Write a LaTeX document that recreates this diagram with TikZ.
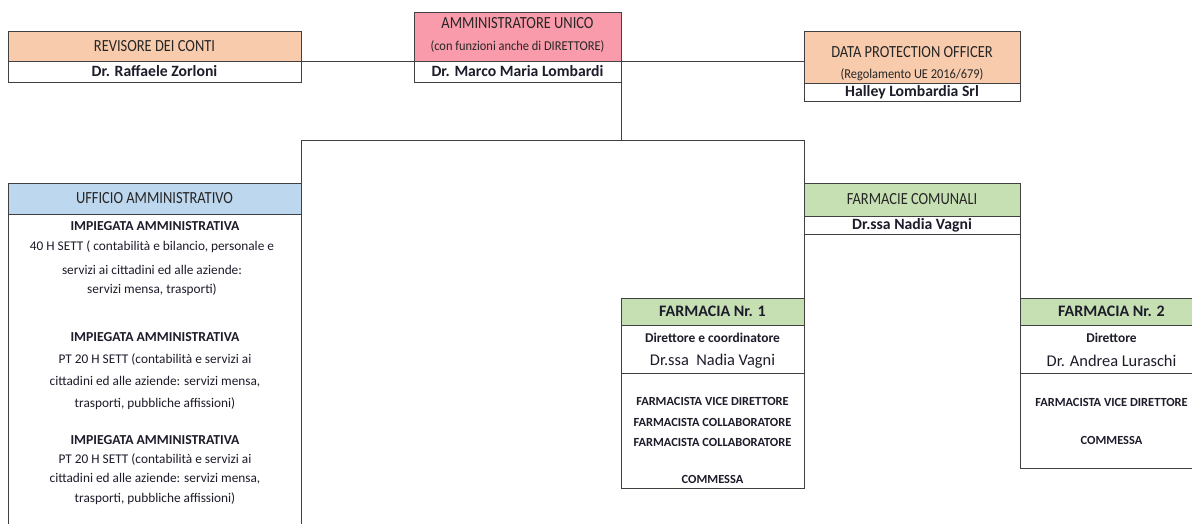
\documentclass[tikz,border=0pt]{standalone}
\usepackage{fontspec}
\setmainfont{Carlito}
\newfontfamily\cond[FakeStretch=0.85]{Carlito}
\newfontfamily\condb[FakeStretch=0.92]{Carlito}
\definecolor{peach}{HTML}{F8CBAD}
\definecolor{pinkh}{HTML}{F99BAA}
\definecolor{blueh}{HTML}{BDD7EE}
\definecolor{greenh}{HTML}{C6E0B4}
\definecolor{lineg}{HTML}{404040}
\definecolor{hdrtxt}{HTML}{262626}
\definecolor{bodytxt}{HTML}{1C1C2A}
\begin{document}
\begin{tikzpicture}[x=1pt,y=-1pt,
 box/.style={draw=lineg,line width=1pt,inner sep=0pt,outer sep=0pt,anchor=north west},
 hdr/.style={font=\cond\fontsize{17}{17}\selectfont,text=hdrtxt},
 subt/.style={font=\condb\fontsize{13.5}{13.5}\selectfont,text=hdrtxt},
 nm/.style={font=\bfseries\fontsize{15.7}{15.7}\selectfont,text=bodytxt},
 bodyt/.style={font=\fontsize{13.3}{13.3}\selectfont,text=bodytxt},
 bodyb/.style={font=\bfseries\fontsize{13.7}{13.7}\selectfont,text=bodytxt},
 fhead/.style={font=\bfseries\fontsize{16}{16}\selectfont,text=bodytxt},
 role/.style={font=\bfseries\fontsize{13.4}{13.4}\selectfont,text=bodytxt},
 bigname/.style={font=\fontsize{16.4}{16.4}\selectfont,text=bodytxt},
 staff/.style={font=\bfseries\fontsize{12.4}{12.4}\selectfont,text=bodytxt},
 conn/.style={draw=lineg,line width=1pt}]
\useasboundingbox (0,0) rectangle (1192,523);
\clip (0,0) rectangle (1192,523);
% Revisore
\node[box,fill=peach,minimum width=293pt,minimum height=30pt,hdr] (revh) at (8,31) {REVISORE DEI CONTI};
\node[box,fill=white,minimum width=293pt,minimum height=21pt,nm] (revn) at (8,61) {Dr. Raffaele Zorloni};
% Amministratore
\node[box,fill=pinkh,minimum width=207pt,minimum height=49pt] (ammh) at (414,12) {};
\node[hdr] (ammt1) at (517.5,23) {AMMINISTRATORE UNICO};
\node[subt] (ammt2) at (517.5,46) {(con funzioni anche di DIRETTORE)};
\node[box,fill=white,minimum width=207pt,minimum height=21pt,nm] (ammn) at (414,61) {Dr. Marco Maria Lombardi};
% DPO
\node[box,fill=peach,minimum width=216pt,minimum height=52pt] (dpoh) at (804,31) {};
\node[hdr] (dpot1) at (912,52) {DATA PROTECTION OFFICER};
\node[subt] (dpot2) at (912,75) {(Regolamento UE 2016/679)};
\node[box,fill=white,minimum width=216pt,minimum height=18pt,nm] (dpon) at (804,83) {Halley Lombardia Srl};
% Ufficio amministrativo
\node[box,fill=blueh,minimum width=293pt,minimum height=31pt,hdr] (uffh) at (8,183) {UFFICIO AMMINISTRATIVO};
\node[box,fill=white,minimum width=293pt,minimum height=330pt] (uffb) at (8,214) {};
\node[bodyb] (u1) at (155,226) {IMPIEGATA AMMINISTRATIVA};
\node[bodyt] (u2) at (152,247) {40 H SETT ( contabilità e bilancio, personale e};
\node[bodyt] (u3) at (152,270) {servizi ai cittadini ed alle aziende:};
\node[bodyt] (u4) at (152,290) {servizi mensa, trasporti)};
\node[bodyb] (u5) at (155,337) {IMPIEGATA AMMINISTRATIVA};
\node[bodyt] (u6) at (155,360) {PT 20 H SETT (contabilità e servizi ai};
\node[bodyt] (u7) at (155,382) {cittadini ed alle aziende: servizi mensa,};
\node[bodyt] (u8) at (155,404) {trasporti, pubbliche affissioni)};
\node[bodyb] (u9) at (155,440) {IMPIEGATA AMMINISTRATIVA};
\node[bodyt] (u10) at (155,460) {PT 20 H SETT (contabilità e servizi ai};
\node[bodyt] (u11) at (155,479) {cittadini ed alle aziende: servizi mensa,};
\node[bodyt] (u12) at (155,499) {trasporti, pubbliche affissioni)};
% Farmacie comunali
\node[box,fill=greenh,minimum width=216pt,minimum height=33pt,hdr] (farch) at (804,183) {FARMACIE COMUNALI};
\node[box,fill=white,minimum width=216pt,minimum height=18pt,nm] (farcn) at (804,216) {Dr.ssa Nadia Vagni};
% Farmacia 1
\node[box,fill=greenh,minimum width=183pt,minimum height=27pt,fhead] (f1h) at (621,298) {FARMACIA Nr. 1};
\node[box,fill=white,minimum width=183pt,minimum height=48pt] (f1n) at (621,325) {};
\node[role] (f1r) at (712.5,338) {Direttore e coordinatore};
\node[bigname] (f1d) at (712.5,361) {Dr.ssa\ \ Nadia Vagni};
\node[box,fill=white,minimum width=183pt,minimum height=115pt] (f1b) at (621,373) {};
\node[staff] (f1s1) at (712.5,401) {FARMACISTA VICE DIRETTORE};
\node[staff] (f1s2) at (712.5,422) {FARMACISTA COLLABORATORE};
\node[staff] (f1s3) at (712.5,442) {FARMACISTA COLLABORATORE};
\node[staff] (f1s4) at (712.5,479) {COMMESSA};
% Farmacia 2
\node[box,fill=greenh,minimum width=183pt,minimum height=27pt,fhead] (f2h) at (1020,298) {FARMACIA Nr. 2};
\node[box,fill=white,minimum width=183pt,minimum height=48pt] (f2n) at (1020,325) {};
\node[role] (f2r) at (1111.5,338) {Direttore};
\node[bigname] (f2d) at (1111.5,361) {Dr. Andrea Luraschi};
\node[box,fill=white,minimum width=183pt,minimum height=95pt] (f2b) at (1020,373) {};
\node[staff] (f2s1) at (1111.5,402) {FARMACISTA VICE DIRETTORE};
\node[staff] (f2s2) at (1111.5,440) {COMMESSA};
% connectors
\coordinate (j) at (621,140);
\draw[conn] (revh.south east) -- (ammh.south west);
\draw[conn] (ammh.south east) -- (ammh.south east -| dpoh.west);
\draw[conn] (ammn.south east) -- (j);
\draw[conn] (uffh.north east) -- (uffh.north east |- j) -- (farch.north west |- j) -- (farch.north west);
\draw[conn] (farcn.south west) -- (f1h.north east);
\draw[conn] (farcn.south east) -- (f2h.north west);
\end{tikzpicture}
\end{document}
